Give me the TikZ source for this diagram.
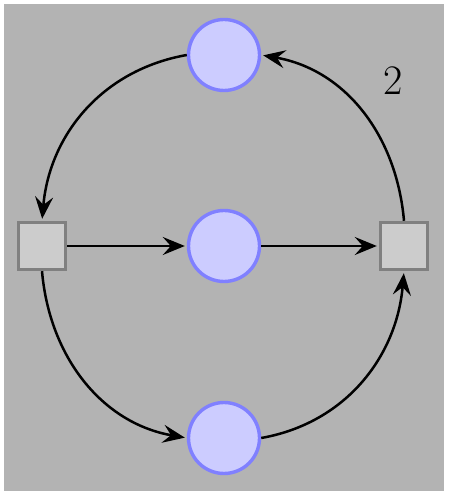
\documentclass[tikz,border=0pt]{standalone}
\usetikzlibrary{arrows.meta}
\definecolor{bggray}{RGB}{179,179,179}
\definecolor{placefill}{RGB}{204,204,255}
\definecolor{placedraw}{RGB}{128,128,255}
\definecolor{transfill}{RGB}{204,204,204}
\definecolor{transdraw}{RGB}{128,128,128}
\tikzset{
  place/.style={circle, draw=placedraw, fill=placefill, line width=3.4pt, minimum size=71pt, inner sep=0pt},
  transition/.style={rectangle, draw=transdraw, fill=transfill, line width=3.4pt, minimum size=47pt, inner sep=0pt},
  arc/.style={line width=2.5pt, shorten >=2pt, -{Stealth[length=22pt,width=18pt,inset=8pt]}},
  weight/.style={font=\fontsize{42}{50}\selectfont}
}
\begin{document}
\begin{tikzpicture}[x=1pt,y=1pt]
  \fill[white] (0,0) rectangle (448,495);
  \useasboundingbox (0,0) rectangle (448,495);
  \fill[bggray] (4,4) rectangle (444,491);
  \node[place] (top) at (224,440) {};
  \node[place] (mid) at (224,249) {};
  \node[place] (bot) at (224,57) {};
  \node[transition] (L) at (42,249) {};
  \node[transition] (R) at (404,249) {};
  \draw[arc] (top.west) to[out=190,in=85] (L.north);
  \draw[arc] (L.east) -- (mid.west);
  \draw[arc] (mid.east) -- (R.west);
  \draw[arc] (L.south) to[out=-85,in=170] (bot.west);
  \draw[arc] (bot.east) to[out=10,in=-95] (R.south);
  \draw[arc] (R.north) to[out=95,in=-10] (top.east);
  \node[weight] (w) at (393,414) {2};
\end{tikzpicture}
\end{document}
